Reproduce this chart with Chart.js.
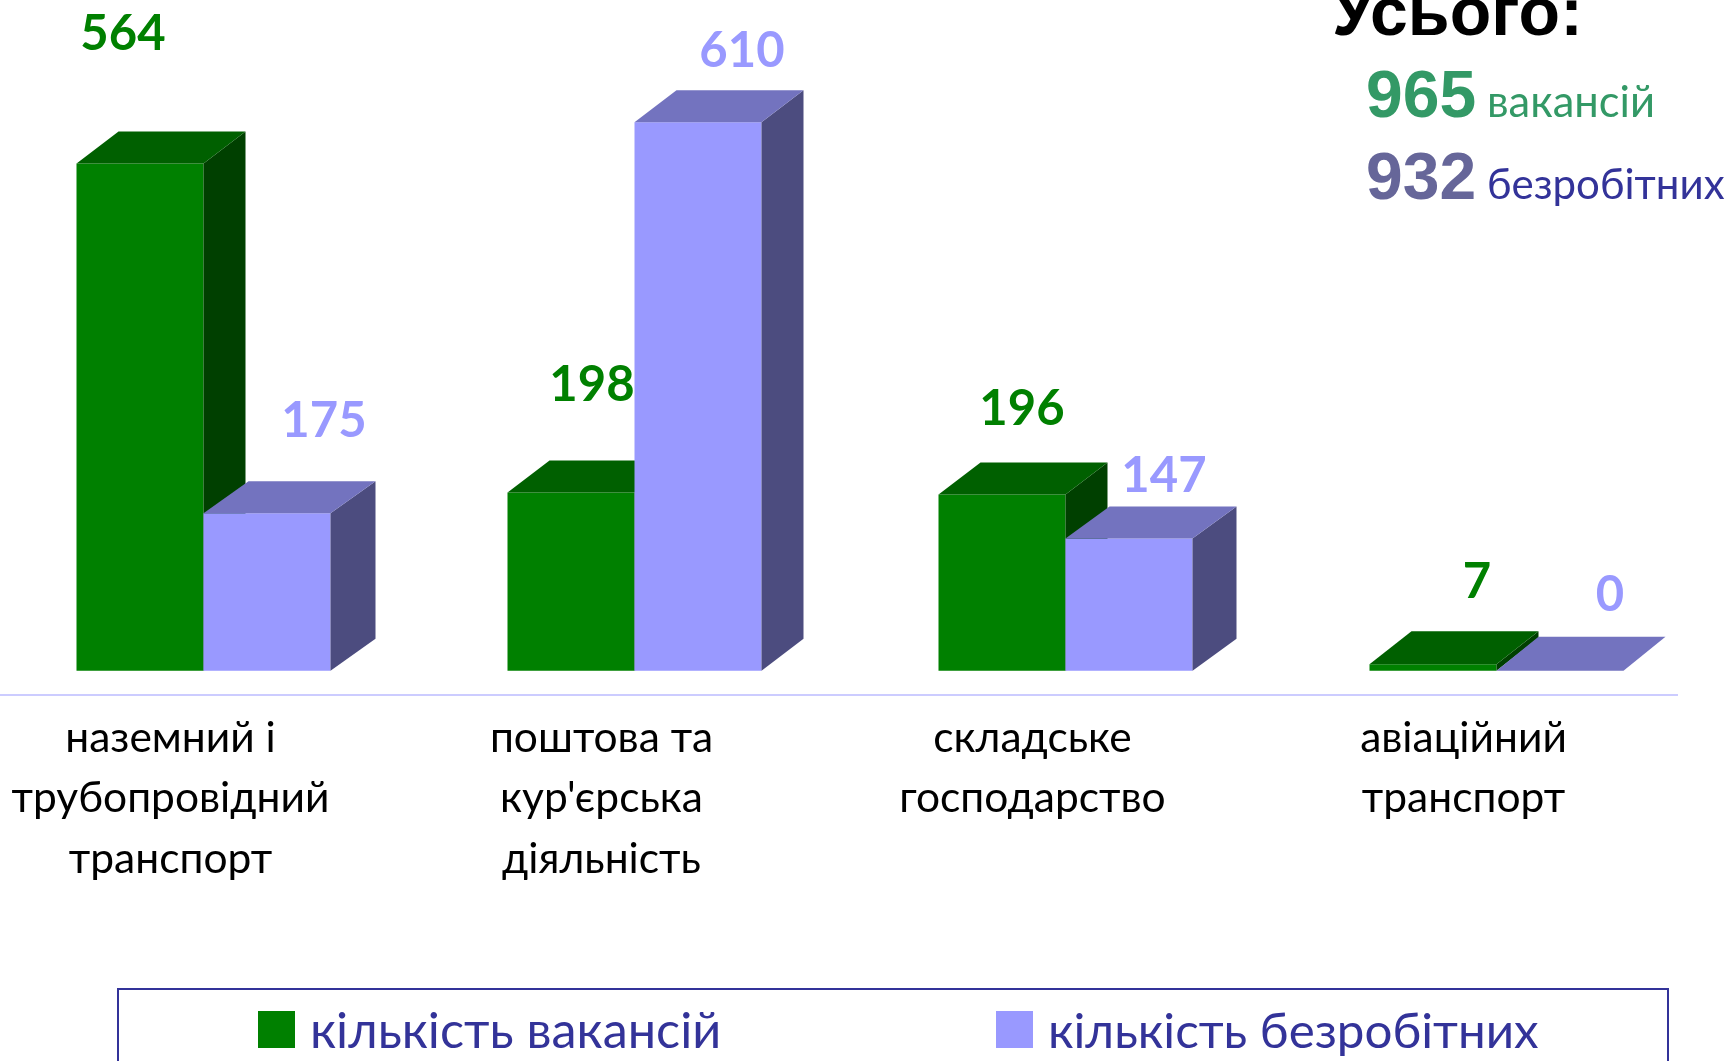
<!DOCTYPE html>
<html><head><meta charset="utf-8">
<style>
html,body{margin:0;padding:0;background:#fff;width:1729px;height:1061px;overflow:hidden}
#wrap{position:absolute;left:-20px;top:0;width:1769px;height:1061px}
#legend{position:absolute;left:117px;top:988px;width:1552px;height:120px;border:2px solid #333399;box-sizing:border-box}
.item{position:absolute;top:0;height:80px;font-family:Lato,"Noto Sans",sans-serif;color:#333399;white-space:nowrap}
.sw{position:absolute;top:21px;left:0;width:37px;height:37px}
.tx{position:absolute;left:52px;top:11px;line-height:56px}
</style>
<script src="https://cdn.jsdelivr.net/npm/chart.js@4"></script>
</head><body>
<div id="wrap"><canvas id="c" width="1769" height="1061" style="width:1769px;height:1061px"></canvas></div>
<div id="legend"></div>
<script>
const categories=[["наземний і","трубопровідний","транспорт"],["поштова та","кур'єрська","діяльність"],["складське","господарство"],["авіаційний","транспорт"]];
const seriesNames=["кількість вакансій","кількість безробітних"];
const vacancies=[564,198,196,7];
const unemployed=[175,610,147,0];
const totals=[965,932];
const totalWords=["вакансій","безробітних"];

const SANS='Lato,"Noto Sans",sans-serif', ARIAL='"Liberation Sans",Arial,sans-serif';
const faces=[{front:'#008000',top:'#006000',side:'#004000',label:'#008000'},
             {front:'#9999ff',top:'#7373bf',side:'#4c4c7f',label:'#9999ff'}];
const OX=20;
const depthX=[[42,42,42,42],[45,42,44,42]];
const depthY=[[32,32,32,33],[32,32,32,34]];
// hand-placed value labels in the original: offset of label centre from bar centre / bar top
const labelShift=[[[-17,-129],[21,-107],[20,-85],[44,-82]],[[57,-92],[44,-71],[35,-62],[50,-75]]];

function drawFaces(chart,i){
  const g=chart.ctx,f=faces[i];
  chart.getDatasetMeta(i).data.forEach((b,j)=>{
    const l=b.x-b.width/2,r=b.x+b.width/2,t=b.y,bt=b.base,DX=depthX[i][j],DY=depthY[i][j];
    g.fillStyle=f.side;g.beginPath();g.moveTo(r,t);g.lineTo(r+DX,t-DY);g.lineTo(r+DX,bt-DY);g.lineTo(r,bt);g.closePath();g.fill();
    g.fillStyle=f.top;g.beginPath();g.moveTo(l,t);g.lineTo(l+DX,t-DY);g.lineTo(r+DX,t-DY);g.lineTo(r,t);g.closePath();g.fill();
  });
}
// The second series must paint over the first one, the reverse of the default paint order.
const box3d={id:'box3d',
  beforeDatasetDraw(chart,args){ if(args.index===1) return false; },
  afterDatasetDraw(chart,args){
    drawFaces(chart,0);
    chart.getDatasetMeta(1).controller.draw();
    drawFaces(chart,1);
  }};
const extras={id:'extras',afterDraw(chart){
  const g=chart.ctx,x=chart.scales.x,y=chart.scales.y;
  g.save();
  g.strokeStyle='#ccccff';g.lineWidth=2;g.beginPath();g.moveTo(0,y.bottom);g.lineTo(x.right-34,y.bottom);g.stroke();
  g.textAlign='center';g.textBaseline='middle';g.font='bold 49px '+SANS;
  [vacancies,unemployed].forEach((arr,i)=>{
    g.fillStyle=faces[i].label;
    chart.getDatasetMeta(i).data.forEach((b,j)=>{
      g.fillText(String(arr[j]),b.x+labelShift[i][j][0],b.y+labelShift[i][j][1]);
    });
  });
  g.textAlign='left';g.textBaseline='alphabetic';
  g.fillStyle='#000';g.font='bold 68px '+ARIAL;g.fillText('Усього:',1332+OX,35);
  g.font='bold 66px '+ARIAL;
  g.fillStyle='#339966';g.fillText(String(totals[0]),1366+OX,117);
  g.fillStyle='#666699';g.fillText(String(totals[1]),1366+OX,199);
  g.font='43.5px '+SANS;
  g.fillStyle='#339966';g.fillText(totalWords[0],1487+OX,117);
  g.font='42px '+SANS;
  g.fillStyle='#333399';g.fillText(totalWords[1],1487+OX,199);
  g.restore();
}};
new Chart(document.getElementById('c'),{
  type:'bar',
  data:{labels:categories,datasets:[
    {label:seriesNames[0],data:vacancies,backgroundColor:faces[0].front},
    {label:seriesNames[1],data:unemployed,backgroundColor:faces[1].front}]},
  options:{
    responsive:false,animation:false,
    layout:{padding:{left:8,right:37,top:0,bottom:0}},
    datasets:{bar:{barPercentage:1,categoryPercentage:254/431,borderWidth:0}},
    plugins:{legend:{display:false},tooltip:{enabled:false}},
    scales:{
      y:{display:false,min:-27.1,max:745.9},
      x:{grid:{display:false},border:{display:false},
         afterFit(s){s.height=366;},
         ticks:{autoSkip:false,maxRotation:0,minRotation:0,padding:5,labelOffset:-33,color:'#000',
                font:{family:SANS,size:42.5,lineHeight:60.5/42.5}}}
    }
  },
  plugins:[box3d,extras]
});
const leg=document.getElementById('legend');
[[139,faces[0].front,50.4],[877,faces[1].front,49.3]].forEach(([x,col,fs],i)=>{
  const d=document.createElement('div');d.className='item';d.style.left=x+'px';d.style.fontSize=fs+'px';
  d.innerHTML='<div class="sw" style="background:'+col+'"></div><div class="tx">'+seriesNames[i]+'</div>';
  leg.appendChild(d);
});
</script>
</body></html>
